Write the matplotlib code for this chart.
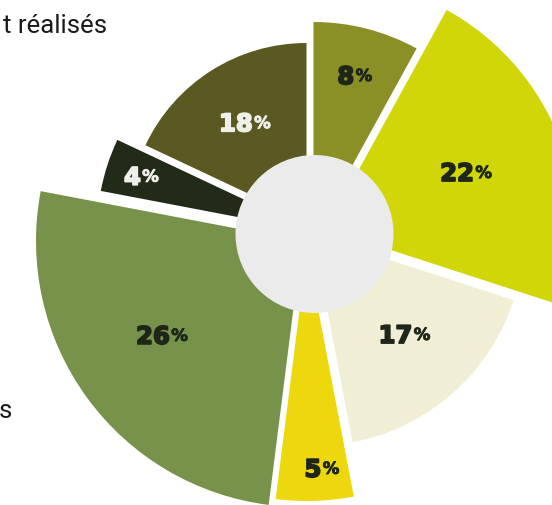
import numpy as np
import matplotlib
matplotlib.use('Agg')
import matplotlib.pyplot as plt
import matplotlib.patheffects as pe
from matplotlib.patches import Wedge, Circle

# shares, clockwise from 12 o'clock
shares = [8, 22, 17, 5, 26, 4, 18]
labels = ['8', '22', '17', '5', '26', '4', '18']
colors = ['#8a8f26', '#d0d607', '#f0efd6', '#edd80e', '#77924a', '#222a18', '#595921']
text_colors = ['#1e2619', '#1e2619', '#1e2619', '#1e2619', '#1e2619', '#f0f0ea', '#f0f0ea']

# layout (pixels)
center = (314.5, 234)
radius = [214, 250, 211, 250, 266, 214, 178]
shift_x = [-1, 11.7, -1.5, -7.5, -12.5, -3.5, -8]
shift_y = [2, -5, 1, 17, 7, -3, -13]
label_dist = [162, 163, 136, 236, 184, 182, 130]
label_turn = [0, 0, 0, 0, 2, 0, 0]
hole_r = 79

fig = plt.figure(figsize=(5.52, 5.05), dpi=100)
ax = fig.add_axes([0, 0, 1, 1])
ax.set_xlim(0, 552)
ax.set_ylim(505, 0)
ax.set_aspect('equal')
ax.axis('off')

ends = np.cumsum(shares) * 3.6
starts = ends - np.array(shares) * 3.6
for i in range(len(shares)):
    cx = center[0] + shift_x[i]
    cy = center[1] + shift_y[i]
    # y axis points down, so angles run clockwise; -90 puts 0 at the top
    ax.add_patch(Wedge((cx, cy), radius[i], starts[i] - 90, ends[i] - 90,
                       facecolor=colors[i], edgecolor='none'))

ax.add_patch(Circle(center, hole_r, facecolor='#ebebeb', edgecolor='none', zorder=3))

for i in range(len(shares)):
    mid = np.deg2rad((starts[i] + ends[i]) / 2 + label_turn[i])
    lx = center[0] + label_dist[i] * np.sin(mid)
    ly = center[1] - label_dist[i] * np.cos(mid)
    num = ax.annotate(labels[i], xy=(lx, ly), xytext=(-6.5, 0), textcoords='offset points',
                      ha='center', va='center', fontsize=17.5, fontweight='bold',
                      family='DejaVu Sans', color=text_colors[i], zorder=4,
                      path_effects=[pe.withStroke(linewidth=1.3, foreground=text_colors[i])])
    ax.annotate('%', xy=(1, 0.92), xycoords=num, xytext=(1, 0), textcoords='offset points',
                ha='left', va='top', fontsize=12, fontweight='bold',
                family='DejaVu Sans', color=text_colors[i], zorder=4,
                path_effects=[pe.withStroke(linewidth=0.6, foreground=text_colors[i])])

ax.text(3, 33, 't réalisés', fontsize=18.5, family='Roboto',
        color='#1a1a1a', ha='left', va='baseline')
ax.text(-1, 418, 's', fontsize=18.5, family='Roboto',
        color='#1a1a1a', ha='left', va='baseline')

fig.savefig('out.png', dpi=100)
